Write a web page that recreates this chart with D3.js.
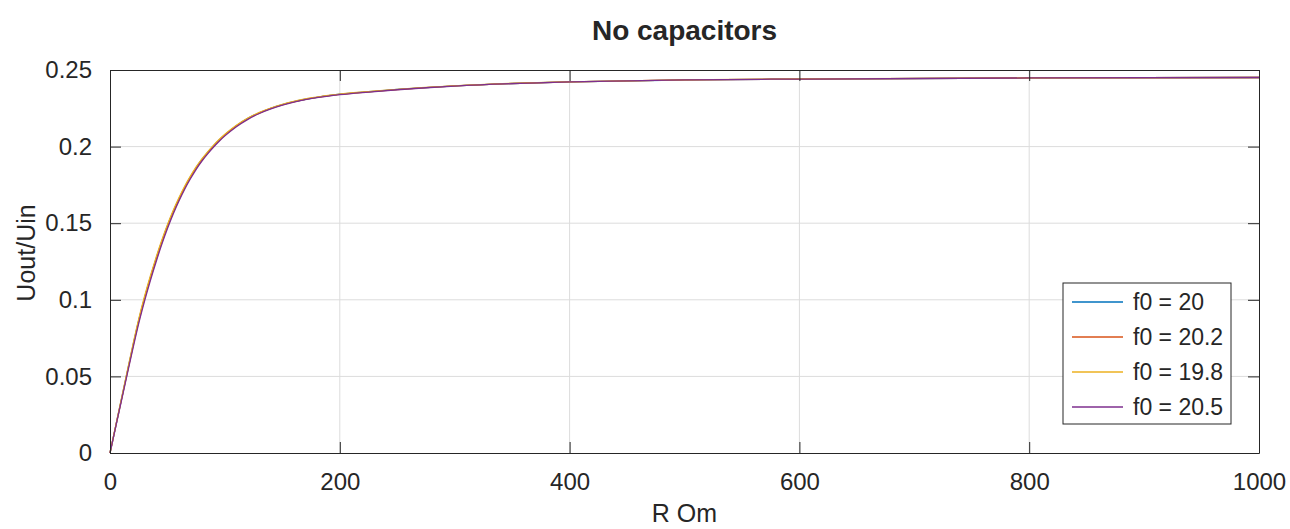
<!DOCTYPE html>
<meta charset="utf-8">
<style>
body { margin: 0; background: #fff; }
svg text { font-family: "Liberation Sans", Arial, sans-serif; fill: #262626; }
.grid line { stroke: #dcdcdc; stroke-width: 1px; }
.line { fill: none; stroke-width: 1.3px; }
</style>
<body>
<script src="https://d3js.org/d3.v7.min.js"></script>
<script>

// data
var rValues = [0, 5, 10, 15, 20, 25, 30, 35, 40, 45, 50, 55, 60, 65, 70, 75, 80, 85, 90, 95, 100,
               110, 120, 130, 140, 150, 160, 170, 180, 190, 200, 225, 250, 275, 300, 350, 400, 500, 600, 800, 1000];

var f20  = [0, .0176, .0352, .0528, .0701, .0866, .1011, .1143, .1265, .1379, .1483, .1576, .1660, .1735, .1802, .1863, .1916, .1962, .2004, .2043, .2077,
            .2136, .2184, .2221, .2250, .2274, .2294, .2309, .2322, .2333, .2342, .2358, .2373, .2385, .2396, .2412, .2423, .2435, .2441, .2448, .2451];
var f202 = [0, .0175, .0349, .0523, .0695, .0859, .1004, .1136, .1258, .1372, .1476, .1570, .1654, .1731, .1798, .1859, .1912, .1959, .2001, .2040, .2075,
            .2134, .2182, .2219, .2249, .2273, .2292, .2308, .2321, .2332, .2341, .2357, .2372, .2385, .2396, .2412, .2422, .2435, .2441, .2448, .2451];
var f198 = [0, .0178, .0356, .0533, .0708, .0874, .1020, .1152, .1274, .1387, .1490, .1583, .1666, .1741, .1807, .1867, .1920, .1966, .2008, .2046, .2080,
            .2139, .2186, .2223, .2252, .2276, .2295, .2311, .2323, .2334, .2343, .2359, .2374, .2386, .2397, .2413, .2423, .2436, .2442, .2448, .2451];
var f205 = [0, .0172, .0344, .0515, .0684, .0846, .0990, .1122, .1245, .1360, .1465, .1560, .1645, .1722, .1790, .1852, .1906, .1953, .1996, .2035, .2070,
            .2130, .2178, .2216, .2246, .2270, .2290, .2306, .2319, .2330, .2339, .2356, .2371, .2384, .2395, .2411, .2422, .2435, .2441, .2448, .2451];

var seriesNames = ["f0 = 20", "f0 = 20.2", "f0 = 19.8", "f0 = 20.5"];
var seriesValues = [f20, f202, f198, f205];
var seriesColors = ["#0072bd", "#d95319", "#edb120", "#7e2f8e"];

var xTicks = [0, 200, 400, 600, 800, 1000];
var yTicks = [0, 0.05, 0.1, 0.15, 0.2, 0.25];

// layout
var margin = {top: 70, right: 31, bottom: 76, left: 110},
    width = 1290 - margin.left - margin.right,
    height = 529 - margin.top - margin.bottom;

var x = d3.scaleLinear().domain([0, 1000]).range([0, width]);
var y = d3.scaleLinear().domain([0, 0.25]).range([height, 0]);

var svg = d3.select("body").append("svg")
    .attr("width", 1290)
    .attr("height", 529);

var g = svg.append("g")
    .attr("transform", "translate(" + margin.left + "," + margin.top + ")");

// grid
g.append("g").attr("class", "grid")
  .selectAll("line").data(xTicks.slice(1, -1)).enter().append("line")
    .attr("x1", function(d) { return x(d); }).attr("x2", function(d) { return x(d); })
    .attr("y1", 0).attr("y2", height);
g.append("g").attr("class", "grid")
  .selectAll("line").data(yTicks.slice(1, -1)).enter().append("line")
    .attr("y1", function(d) { return y(d); }).attr("y2", function(d) { return y(d); })
    .attr("x1", 0).attr("x2", width);

// lines
var line = d3.line()
    .x(function(d, i) { return x(rValues[i]); })
    .y(function(d) { return y(d); })
    .curve(d3.curveMonotoneX);

seriesValues.forEach(function(vals, i) {
  g.append("path")
      .datum(vals)
      .attr("class", "line")
      .attr("stroke", seriesColors[i])
      .attr("d", line);
});

// axes (ticks inside, box on)
function styleAxis(sel) {
  sel.select(".domain").attr("stroke", "#262626");
  sel.selectAll(".tick line").attr("stroke", "#262626");
  sel.selectAll("text").attr("font-size", "24px").attr("fill", "#262626")
     .attr("font-family", "Liberation Sans, Arial, sans-serif");
}

var fmt = function(d) { return String(+d.toFixed(2)); };

g.append("g")
    .attr("transform", "translate(0," + height + ")")
    .call(d3.axisBottom(x).tickValues(xTicks).tickSizeInner(-11).tickSizeOuter(0).tickPadding(20).tickFormat(fmt))
    .call(styleAxis);
g.append("g")
    .call(d3.axisTop(x).tickValues(xTicks).tickSizeInner(-11).tickSizeOuter(0).tickFormat(""))
    .call(styleAxis);
g.append("g")
    .call(d3.axisLeft(y).tickValues(yTicks).tickSizeInner(-11).tickSizeOuter(0).tickPadding(18).tickFormat(fmt))
    .call(styleAxis);
g.append("g")
    .attr("transform", "translate(" + width + ",0)")
    .call(d3.axisRight(y).tickValues(yTicks).tickSizeInner(-11).tickSizeOuter(0).tickFormat(""))
    .call(styleAxis);

// title and axis labels
svg.append("text")
    .attr("x", margin.left + width / 2)
    .attr("y", 40)
    .attr("text-anchor", "middle")
    .attr("font-size", "28px")
    .attr("font-weight", "bold")
    .attr("fill", "#000")
    .text("No capacitors");

svg.append("text")
    .attr("x", margin.left + width / 2)
    .attr("y", 522)
    .attr("text-anchor", "middle")
    .attr("font-size", "25px")
    .text("R Om");

svg.append("text")
    .attr("transform", "translate(35,253) rotate(-90)")
    .attr("text-anchor", "middle")
    .attr("font-size", "25px")
    .text("Uout/Uin");

// legend
var lx = 1063 - margin.left, ly = 283 - margin.top, lw = 168, lh = 141, rowH = 35;
var legend = g.append("g").attr("transform", "translate(" + lx + "," + ly + ")");
legend.append("rect")
    .attr("width", lw).attr("height", lh)
    .attr("fill", "#fff").attr("stroke", "#262626").attr("stroke-width", 1);

seriesNames.forEach(function(name, i) {
  var cy = 19 + i * rowH;
  legend.append("line")
      .attr("x1", 9).attr("x2", 60)
      .attr("y1", cy).attr("y2", cy)
      .attr("stroke", seriesColors[i]).attr("stroke-width", 1.3);
  legend.append("text")
      .attr("x", 70).attr("y", cy)
      .attr("dy", "0.35em")
      .attr("font-size", "23px")
      .attr("fill", "#000")
      .text(name);
});

</script>
</body>
